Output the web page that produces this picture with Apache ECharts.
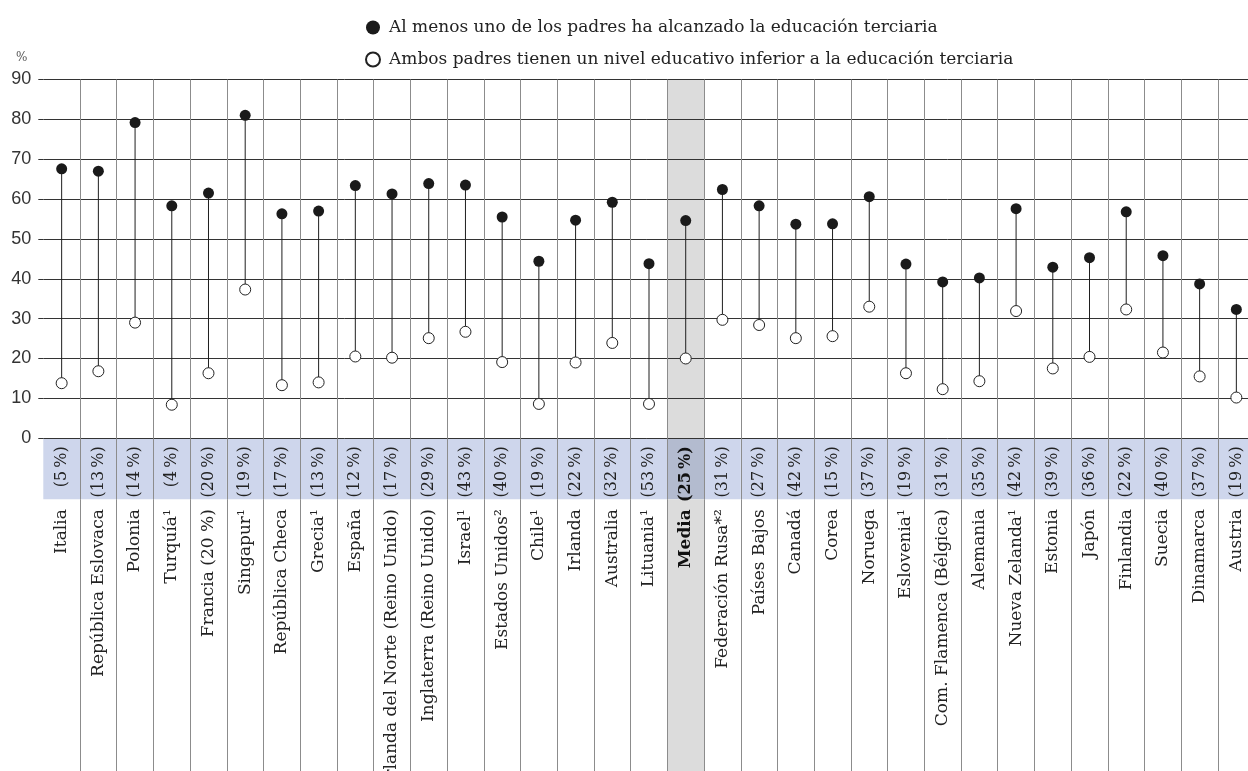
<!DOCTYPE html>
<html>
<head>
<meta charset="utf-8">
<script src="https://cdn.jsdelivr.net/npm/echarts@6/dist/echarts.min.js"></script>
<style>
html,body{margin:0;padding:0;background:#fff;}
#chart{width:1248px;height:771px;}
</style>
</head>
<body>
<div id="chart"></div>
<script>
const categories = ["Italia","República Eslovaca","Polonia","Turquía¹","Francia (20 %)","Singapur¹","República Checa","Grecia¹","España","Irlanda del Norte (Reino Unido)","Inglaterra (Reino Unido)","Israel¹","Estados Unidos²","Chile¹","Irlanda","Australia","Lituania¹","Media","Federación Rusa*²","Países Bajos","Canadá","Corea","Noruega","Eslovenia¹","Com. Flamenca (Bélgica)","Alemania","Nueva Zelanda¹","Estonia","Japón","Finlandia","Suecia","Dinamarca","Austria"];
const shares = [5,13,14,4,20,19,17,13,12,17,29,43,40,19,22,32,53,25,31,27,42,15,37,19,31,35,42,39,36,22,40,37,19];
const highValues = [67.6,67.0,79.2,58.3,61.5,81.0,56.3,57.0,63.4,61.3,63.9,63.5,55.5,44.4,54.7,59.2,43.8,54.6,62.4,58.3,53.7,53.8,60.6,43.7,39.2,40.2,57.6,42.9,45.3,56.8,45.8,38.7,32.3];
const lowValues = [13.8,16.8,29.0,8.4,16.3,37.3,13.3,14.0,20.5,20.2,25.1,26.7,19.1,8.6,19.0,23.9,8.6,20.0,29.7,28.4,25.1,25.6,33.0,16.3,12.3,14.3,31.9,17.5,20.4,32.3,21.5,15.5,10.2];
const yTicks = {min:0, max:90, interval:10};
const seriesNames = ["Al menos uno de los padres ha alcanzado la educación terciaria","Ambos padres tienen un nivel educativo inferior a la educación terciaria"];
const highlightName = "Media";

const SERIF = '"DejaVu Serif", serif';
const mediaIdx = categories.indexOf(highlightName);
const vColors = categories.map((c,i)=> i===0 ? 'rgba(0,0,0,0)' : '#8c8c8c');

const chart = echarts.init(document.getElementById('chart'), null, {renderer:'canvas'});

const gridLeft = 43.3, gridWidth = 1211.4;
const gridCommon = {left:gridLeft, width:gridWidth, containLabel:false, outerBoundsMode:'none'};

const option = {
  animation:false,
  backgroundColor:'#ffffff',
  title:{text:'%', left:11, top:47, textStyle:{fontFamily:SERIF, fontSize:12, fontWeight:'normal', color:'#555'}},
  legend:{
    orient:'vertical', left:360, top:14, itemGap:15, itemWidth:14, itemHeight:14,
    textStyle:{fontFamily:SERIF, fontSize:17, color:'#222', padding:[0,0,0,4]},
    data:seriesNames
  },
  grid:[
    Object.assign({top:79.5, height:358.7}, gridCommon),
    Object.assign({top:438.2, height:61}, gridCommon),
    Object.assign({top:499.2, bottom:0}, gridCommon)
  ],
  xAxis:[
    {type:'category', gridIndex:0, position:'bottom', data:categories, boundaryGap:true, z:3,
      axisLine:{show:false}, axisTick:{show:false},
      splitLine:{show:true, interval:0, lineStyle:{color:vColors, width:1}},
      axisLabel:{interval:0, rotate:90, margin:8, fontFamily:SERIF, fontSize:16, color:'#222',
        formatter:(v,i)=>{const t='('+shares[i]+'\u2009%)'; return v===highlightName?'{b|'+t+'}':t;},
        rich:{b:{fontWeight:'bold', fontFamily:SERIF, fontSize:16, color:'#111'}}}
    },
    {type:'category', gridIndex:0, position:'bottom', offset:0, data:categories, boundaryGap:true, z:3,
      axisLine:{show:false}, axisTick:{show:false}, splitLine:{show:false},
      axisLabel:{interval:0, rotate:90, margin:71, fontFamily:SERIF, fontSize:17, color:'#222',
        formatter:(v)=> v===highlightName ? '{b|'+v+'}' : v,
        rich:{b:{fontWeight:'bold', fontFamily:SERIF, fontSize:17, color:'#111'}}}
    },
    {type:'category', gridIndex:1, data:categories, boundaryGap:true, z:3,
      axisLine:{show:false}, axisTick:{show:false}, axisLabel:{show:false},
      splitLine:{show:true, interval:0, lineStyle:{color:vColors, width:1}}
    },
    {type:'category', gridIndex:2, data:categories, boundaryGap:true, z:3,
      axisLine:{show:false}, axisTick:{show:false}, axisLabel:{show:false},
      splitLine:{show:true, interval:0, lineStyle:{color:vColors, width:1}}
    }
  ],
  yAxis:[
    {type:'value', gridIndex:0, min:yTicks.min, max:yTicks.max, interval:yTicks.interval, z:3,
      axisLine:{show:false},
      axisTick:{show:true, length:5, lineStyle:{color:'#333', width:1}},
      splitLine:{show:true, lineStyle:{color:'#333', width:1}},
      axisLabel:{margin:12, fontFamily:'"Liberation Sans", sans-serif', fontSize:18, color:'#333'}
    },
    {type:'value', gridIndex:1, min:0, max:1, show:false},
    {type:'value', gridIndex:2, min:0, max:1, show:false}
  ],
  series:[
    {type:'bar', xAxisIndex:0, yAxisIndex:0, silent:true, z:1, barWidth:'100%',
      data:categories.map(c=> c===highlightName ? yTicks.max : '-'),
      itemStyle:{color:'#dcdcdc'}},
    {type:'bar', xAxisIndex:2, yAxisIndex:1, silent:true, z:1, barWidth:'100%',
      data:categories.map(()=>1),
      itemStyle:{color:(p)=> p.dataIndex===mediaIdx ? '#b3bbcf' : '#ced6ec'}},
    {type:'bar', xAxisIndex:3, yAxisIndex:2, silent:true, z:1, barWidth:'100%',
      data:categories.map(c=> c===highlightName ? 1 : '-'),
      itemStyle:{color:'#dcdcdc'}},
    {type:'custom', xAxisIndex:0, yAxisIndex:0, z:4, silent:true,
      data:categories.map((c,i)=>[i, lowValues[i], highValues[i]]),
      encode:{x:0, y:[1,2]},
      renderItem:(params, api)=>{
        const p1 = api.coord([api.value(0), api.value(1)]);
        const p2 = api.coord([api.value(0), api.value(2)]);
        return {type:'line', shape:{x1:p1[0], y1:p1[1], x2:p2[0], y2:p2[1]}, style:{stroke:'#1f1f1f', lineWidth:1}};
      }
    },
    {name:seriesNames[0], type:'scatter', xAxisIndex:0, yAxisIndex:0, z:5,
      symbol:'circle', symbolSize:11, data:highValues,
      itemStyle:{color:'#1a1a1a', opacity:1}},
    {name:seriesNames[1], type:'scatter', xAxisIndex:0, yAxisIndex:0, z:5,
      symbol:'circle', symbolSize:11, data:lowValues,
      itemStyle:{color:'#ffffff', borderColor:'#222', borderWidth:1, opacity:1}}
  ]
};
chart.setOption(option);
</script>
</body>
</html>
